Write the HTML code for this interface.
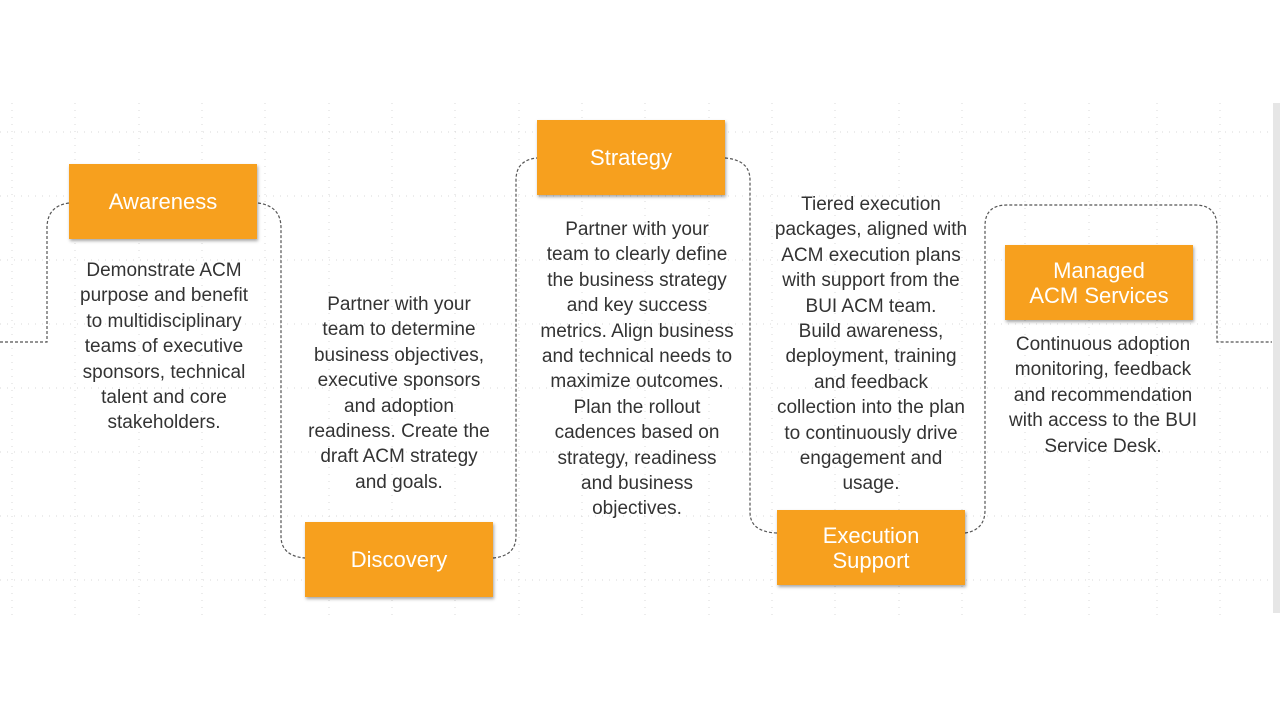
<!DOCTYPE html>
<html><head><meta charset="utf-8"><style>
html,body{margin:0;padding:0;width:1280px;height:720px;background:#fff;overflow:hidden;position:relative;font-family:"Liberation Sans",sans-serif}
.side{position:absolute;left:1273px;top:103px;width:7px;height:510px;background:#e6e6e6}
.box{position:absolute;width:188px;height:75px;background:#f7a01e;color:#fff;font-size:22px;display:flex;align-items:center;justify-content:center;text-align:center;line-height:25px;box-shadow:1px 2px 3px rgba(0,0,0,0.35)}
.t{position:absolute;width:240px;text-align:center;color:#333;font-size:19px;line-height:25.4px;white-space:nowrap}
</style></head><body>
<svg width="1280" height="720" style="position:absolute;left:0;top:0">
<g stroke="#d8d8d8" stroke-width="1" stroke-dasharray="1,6">
<line x1="12" y1="103" x2="12" y2="615"/><line x1="75" y1="103" x2="75" y2="615"/><line x1="139" y1="103" x2="139" y2="615"/><line x1="202" y1="103" x2="202" y2="615"/><line x1="265" y1="103" x2="265" y2="615"/><line x1="329" y1="103" x2="329" y2="615"/><line x1="392" y1="103" x2="392" y2="615"/><line x1="455" y1="103" x2="455" y2="615"/><line x1="519" y1="103" x2="519" y2="615"/><line x1="582" y1="103" x2="582" y2="615"/><line x1="645" y1="103" x2="645" y2="615"/><line x1="709" y1="103" x2="709" y2="615"/><line x1="772" y1="103" x2="772" y2="615"/><line x1="835" y1="103" x2="835" y2="615"/><line x1="899" y1="103" x2="899" y2="615"/><line x1="962" y1="103" x2="962" y2="615"/><line x1="1025" y1="103" x2="1025" y2="615"/><line x1="1089" y1="103" x2="1089" y2="615"/><line x1="1157" y1="103" x2="1157" y2="615"/><line x1="1220" y1="103" x2="1220" y2="615"/>
<line x1="0" y1="132" x2="1273" y2="132"/><line x1="0" y1="196" x2="1273" y2="196"/><line x1="0" y1="260" x2="1273" y2="260"/><line x1="0" y1="324" x2="1273" y2="324"/><line x1="0" y1="388" x2="1273" y2="388"/><line x1="0" y1="452" x2="1273" y2="452"/><line x1="0" y1="516" x2="1273" y2="516"/><line x1="0" y1="580" x2="1273" y2="580"/>
</g>
<g fill="none" stroke="#555" stroke-width="1.2" stroke-dasharray="3,2">
<path d="M0 342 H47 V228 Q47 206 69 203"/>
<path d="M258 203 Q281 206 281 228 V536 Q281 556 305 558"/>
<path d="M493 558 Q516 556 516 536 V180 Q516 160 537 158"/>
<path d="M725 158 Q750 160 750 180 V512 Q750 532 777 533"/>
<path d="M965 533 Q985 530 985 510 V226 Q985 205 1007 205 H1195 Q1217 205 1217 227 V342 H1272"/>
</g>
</svg>
<div class="side"></div>
<div class="box" style="left:69px;top:164px">Awareness</div>
<div class="box" style="left:305px;top:522px">Discovery</div>
<div class="box" style="left:537px;top:120px">Strategy</div>
<div class="box" style="left:777px;top:510px">Execution<br>Support</div>
<div class="box" style="left:1005px;top:245px">Managed<br>ACM Services</div>
<div class="t" style="left:44px;top:258px">Demonstrate ACM<br>purpose and benefit<br>to multidisciplinary<br>teams of executive<br>sponsors, technical<br>talent and core<br>stakeholders.</div>
<div class="t" style="left:279px;top:292px">Partner with your<br>team to determine<br>business objectives,<br>executive sponsors<br>and adoption<br>readiness. Create the<br>draft ACM strategy<br>and goals.</div>
<div class="t" style="left:517px;top:217px">Partner with your<br>team to clearly define<br>the business strategy<br>and key success<br>metrics. Align business<br>and technical needs to<br>maximize outcomes.<br>Plan the rollout<br>cadences based on<br>strategy, readiness<br>and business<br>objectives.</div>
<div class="t" style="left:751px;top:192px">Tiered execution<br>packages, aligned with<br>ACM execution plans<br>with support from the<br>BUI ACM team.<br>Build awareness,<br>deployment, training<br>and feedback<br>collection into the plan<br>to continuously drive<br>engagement and<br>usage.</div>
<div class="t" style="left:983px;top:332px">Continuous adoption<br>monitoring, feedback<br>and recommendation<br>with access to the BUI<br>Service Desk.</div>
</body></html>
